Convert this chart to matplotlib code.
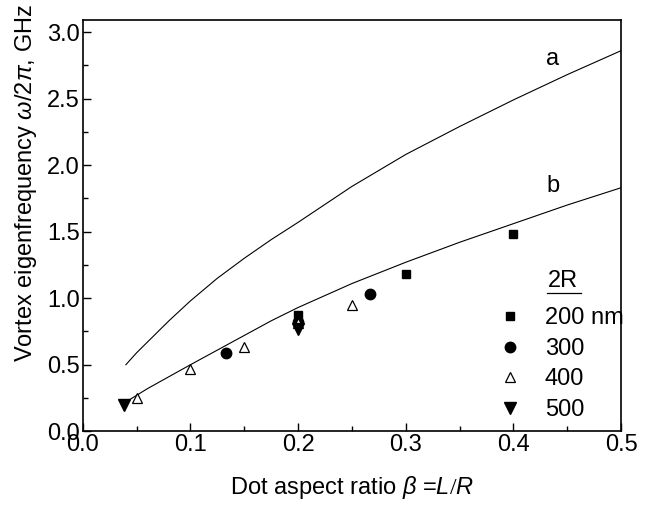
import matplotlib
matplotlib.use("Agg")
import matplotlib.pyplot as plt
from matplotlib.ticker import MultipleLocator

plt.rcParams["font.family"] = ["Liberation Sans", "DejaVu Sans"]
plt.rcParams["mathtext.fontset"] = "custom"
plt.rcParams["mathtext.rm"] = "Liberation Serif"
plt.rcParams["mathtext.it"] = "Liberation Sans:italic"

FS = 17

# theory curves a and b
curve_x = [0.04, 0.05, 0.06, 0.08, 0.1, 0.125, 0.15, 0.175, 0.2, 0.25, 0.3, 0.35, 0.4, 0.45, 0.5]
curve_a = [0.50, 0.59, 0.67, 0.83, 0.98, 1.15, 1.30, 1.44, 1.57, 1.84, 2.08, 2.29, 2.49, 2.68, 2.86]
curve_b = [0.22, 0.27, 0.32, 0.41, 0.50, 0.61, 0.72, 0.83, 0.93, 1.11, 1.27, 1.42, 1.56, 1.70, 1.83]

# measured points, by dot diameter 2R
x_200 = [0.2, 0.3, 0.4]
y_200 = [0.87, 1.18, 1.48]
x_300 = [0.133, 0.2, 0.267]
y_300 = [0.59, 0.82, 1.03]
x_400 = [0.05, 0.1, 0.15, 0.2, 0.25]
y_400 = [0.25, 0.47, 0.63, 0.81, 0.95]
x_500 = [0.038, 0.2]
y_500 = [0.20, 0.77]

fig = plt.figure(figsize=(6.47, 5.14), dpi=100)
ax = fig.add_axes([0.128, 0.161, 0.832, 0.800])

ax.plot(curve_x, curve_a, color="black", linewidth=0.8)
ax.plot(curve_x, curve_b, color="black", linewidth=0.8)

ax.plot(x_200, y_200, "s", color="black", markersize=5.5, linestyle="none", label="200 nm")
ax.plot(x_300, y_300, "o", color="black", markersize=7.5, linestyle="none", label="300")
ax.plot(x_400, y_400, "^", markerfacecolor="white", markeredgecolor="black",
        markeredgewidth=0.9, markersize=7, linestyle="none", label="400")
ax.plot(x_500, y_500, "v", color="black", markersize=8, linestyle="none", label="500")

ax.text(0.436, 2.80, "a", fontsize=FS, ha="center", va="center")
ax.text(0.437, 1.84, "b", fontsize=FS, ha="center", va="center")

ax.set_xlim(0.0, 0.5)
ax.set_ylim(0.0, 3.09)
ax.xaxis.set_major_locator(MultipleLocator(0.1))
ax.xaxis.set_minor_locator(MultipleLocator(0.05))
ax.yaxis.set_major_locator(MultipleLocator(0.5))
ax.yaxis.set_minor_locator(MultipleLocator(0.25))
ax.xaxis.set_major_formatter(plt.FuncFormatter(lambda v, p: f"{v:.1f}"))
ax.yaxis.set_major_formatter(plt.FuncFormatter(lambda v, p: f"{v:.1f}"))
ax.tick_params(which="both", direction="in", labelsize=FS, width=1.0,
               top=False, right=False)
ax.tick_params(which="major", length=6, pad=2)
ax.tick_params(which="minor", length=3.5)
for s in ax.spines.values():
    s.set_linewidth(1.2)

ax.set_xlabel(r"Dot aspect ratio $\beta$ =$\mathit{L/R}$", fontsize=FS, labelpad=13)
fig.text(0.040, 0.645, r"Vortex eigenfrequency $\omega$/2$\pi$, GHz", fontsize=FS,
         rotation=90, ha="center", va="center")

# legend with underlined title
ax.text(0.892, 0.365, "2R", fontsize=FS, ha="center", va="center", transform=ax.transAxes)
ax.plot([0.862, 0.926], [0.335, 0.335], color="black", linewidth=0.9,
        transform=ax.transAxes, clip_on=False)
ax.legend(loc="upper left", bbox_to_anchor=(0.758, 0.301), frameon=False,
          fontsize=FS, borderpad=0, borderaxespad=0, handlelength=1.6,
          handletextpad=0.68, labelspacing=0.36, numpoints=1)

fig.savefig("out.png", dpi=100)
